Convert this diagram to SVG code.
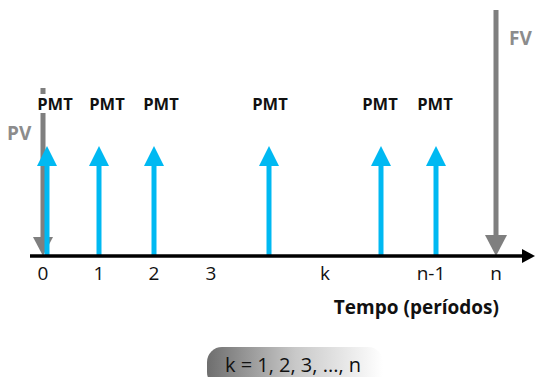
<svg xmlns="http://www.w3.org/2000/svg" width="535" height="377" viewBox="0 0 535 377">
  <defs>
    <style>
      .pmt { font-family: "Open Sans", "Liberation Sans", sans-serif; font-weight: bold; font-size: 16.5px; fill: #111; text-anchor: middle; }
      .tick { font-family: "Open Sans", "Liberation Sans", sans-serif; font-size: 19px; fill: #111; text-anchor: middle; }
      .gray-label { font-family: "Open Sans", "Liberation Sans", sans-serif; font-weight: bold; font-size: 19px; fill: #8c8c8c; }
      .pay { stroke: #00b9f2; stroke-width: 5; }
      .pay-head { fill: #00b9f2; }
      .flow { stroke: #7f7f7f; stroke-width: 5; }
      .flow-head { fill: #7f7f7f; }
    </style>
    <linearGradient id="pillFill" x1="0" y1="0" x2="1" y2="0">
      <stop offset="0" stop-color="#6e6e6e"/>
      <stop offset="0.5" stop-color="#c8c8c8"/>
      <stop offset="1" stop-color="#ffffff"/>
    </linearGradient>
  </defs>

  <rect width="535" height="377" fill="#ffffff"/>

  <!-- present value: downward gray arrow at period 0 -->
  <g id="pv">
    <line class="flow" x1="43" y1="88" x2="43" y2="238"/>
    <polygon class="flow-head" points="33,237 53,237 43,256"/>
    <text class="gray-label" x="7" y="140">PV</text>
  </g>

  <!-- future value: downward gray arrow at period n -->
  <g id="fv">
    <line class="flow" x1="496" y1="10" x2="496" y2="237"/>
    <polygon class="flow-head" points="485,235 507,235 496,256"/>
    <text class="gray-label" x="509" y="45">FV</text>
  </g>

  <!-- payments -->
  <g id="pmt-0">
    <line class="pay" x1="47" y1="256" x2="47" y2="162"/>
    <polygon class="pay-head" points="37,166 57,166 47,146"/>
    <rect x="36" y="94" width="38" height="19" fill="#ffffff"/>
    <text class="pmt" x="55" y="110">PMT</text>
  </g>
  <g id="pmt-1">
    <line class="pay" x1="99" y1="256" x2="99" y2="162"/>
    <polygon class="pay-head" points="89,166 109,166 99,146"/>
    <text class="pmt" x="107" y="110">PMT</text>
  </g>
  <g id="pmt-2">
    <line class="pay" x1="154" y1="256" x2="154" y2="162"/>
    <polygon class="pay-head" points="144,166 164,166 154,146"/>
    <text class="pmt" x="161" y="110">PMT</text>
  </g>
  <g id="pmt-k">
    <line class="pay" x1="269" y1="256" x2="269" y2="162"/>
    <polygon class="pay-head" points="259,166 279,166 269,146"/>
    <text class="pmt" x="270" y="110">PMT</text>
  </g>
  <g id="pmt-n2">
    <line class="pay" x1="381" y1="256" x2="381" y2="162"/>
    <polygon class="pay-head" points="371,166 391,166 381,146"/>
    <text class="pmt" x="380" y="110">PMT</text>
  </g>
  <g id="pmt-n1">
    <line class="pay" x1="436" y1="256" x2="436" y2="162"/>
    <polygon class="pay-head" points="426,166 446,166 436,146"/>
    <text class="pmt" x="435" y="110">PMT</text>
  </g>

  <!-- time axis -->
  <g id="axis">
    <line x1="30" y1="256" x2="526" y2="256" stroke="#000" stroke-width="3.5"/>
    <polygon points="522,249 535,256 522,263" fill="#000"/>
    <text class="tick" x="43" y="280">0</text>
    <text class="tick" x="99" y="280">1</text>
    <text class="tick" x="154" y="280">2</text>
    <text class="tick" x="211" y="280">3</text>
    <text class="tick" x="325" y="280">k</text>
    <text class="tick" x="431" y="280">n-1</text>
    <text class="tick" x="496" y="280">n</text>
    <text x="499" y="314" text-anchor="end" font-family="'Open Sans', 'Liberation Sans', sans-serif" font-weight="bold" font-size="19" fill="#111">Tempo (períodos)</text>
  </g>

  <!-- index range -->
  <g id="range">
    <rect x="207" y="347" width="176" height="40" rx="15" fill="url(#pillFill)"/>
    <text x="293" y="372" text-anchor="middle" font-family="'Open Sans', 'Liberation Sans', sans-serif" font-size="20" fill="#111">k = 1, 2, 3, ..., n</text>
  </g>
</svg>
